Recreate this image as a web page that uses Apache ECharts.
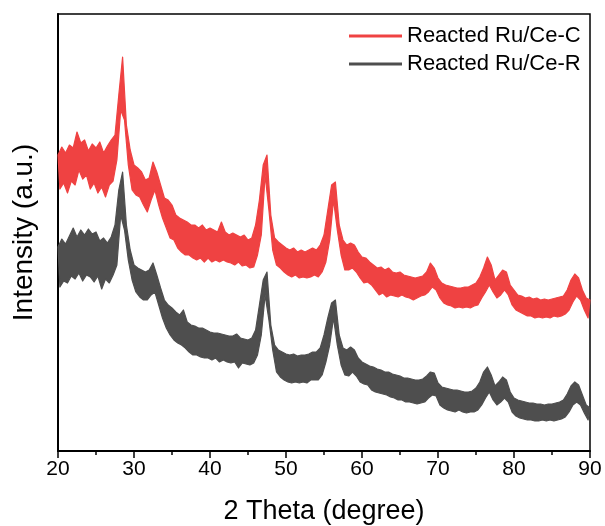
<!DOCTYPE html>
<html lang="en" style="height: 100%">
<head>
  <meta charset="utf-8">
</head>
<body style="height: 100%; margin: 0">
  <div id="container" style="width: 605px; height: 526px"></div>

  <script type="text/javascript" src="https://fastly.jsdelivr.net/npm/echarts@6.0.0/dist/echarts.min.js"></script>
  <script type="text/javascript">
    // scan: 2 theta from 20 to 90, upper edge of the noise band every 0.5 deg,
    // lower edge of the band read half a step later (20.25, 20.75 ...)
    var scanStart = 20;
    var scanStep = 0.5;

    var xTicks = [20, 30, 40, 50, 60, 70, 80, 90];
    var seriesNames = ['Reacted Ru/Ce-C', 'Reacted Ru/Ce-R'];

    // Reacted Ru/Ce-C
    var ceCTop = [
      296, 304, 298, 306, 303, 319, 308, 311, 300, 307, 303, 309, 298, 305, 311, 316, 356, 394, 326, 301,
      286, 283, 279, 271, 273, 289, 279, 266, 253, 251, 246, 236, 233, 231, 229, 226, 226, 223, 226, 221,
      223, 221, 219, 229, 219, 216, 218, 216, 214, 216, 211, 213, 226, 251, 286, 296, 236, 213, 209, 206,
      203, 201, 203, 199, 201, 199, 201, 203, 201, 206, 216, 241, 266, 269, 226, 211, 206, 208, 206, 199,
      194, 193, 189, 186, 183, 184, 181, 183, 179, 178, 179, 176, 175, 174, 173, 174, 175, 179, 188, 183,
      173, 168, 166, 165, 164, 163, 163, 164, 164, 166, 168, 174, 183, 194, 186, 171, 176, 181, 179, 166,
      161, 156, 155, 153, 154, 152, 153, 151, 152, 151, 152, 153, 154, 155, 161, 171, 177, 173, 161, 153,
      151
    ];
    var ceCLow = [
      262, 268, 258, 270, 266, 281, 272, 276, 262, 268, 258, 264, 254, 266, 270, 291, 341, 331, 286, 261,
      256, 254, 246, 239, 251, 261, 246, 233, 223, 213, 211, 203, 199, 196, 196, 193, 191, 193, 189, 193,
      189, 191, 189, 191, 189, 188, 186, 189, 185, 186, 183, 184, 196, 216, 276, 241, 201, 186, 183, 179,
      176, 174, 176, 173, 174, 173, 174, 176, 174, 179, 189, 211, 251, 221, 196, 181, 181, 183, 179, 173,
      168, 169, 166, 161, 156, 158, 154, 156, 155, 154, 156, 154, 153, 151, 153, 155, 156, 159, 164, 161,
      153, 148, 146, 145, 143, 144, 143, 144, 143, 145, 146, 153, 159, 166, 159, 153, 156, 161, 156, 146,
      141, 139, 137, 135, 135, 133, 134, 133, 134, 133, 135, 134, 135, 137, 141, 149, 155, 151, 141, 133
    ];

    // Reacted Ru/Ce-R
    var ceRTop = [
      204, 212, 207, 215, 223, 214, 221, 216, 222, 217, 219, 210, 213, 208, 214, 226, 261, 279, 226, 201,
      186, 183, 181, 179, 181, 188, 176, 163, 151, 146, 143, 139, 136, 141, 129, 126, 125, 123, 123, 121,
      119, 118, 118, 117, 116, 115, 115, 117, 113, 112, 111, 113, 121, 146, 171, 179, 126, 106, 101, 99,
      97, 96, 97, 95, 96, 96, 97, 99, 99, 103, 116, 133, 148, 151, 116, 103, 101, 104, 101, 93,
      89, 87, 85, 84, 82, 81, 79, 79, 77, 76, 75, 73, 73, 72, 71, 71, 72, 75, 79, 78,
      68, 64, 63, 62, 61, 61, 60, 59, 59, 60, 63, 69, 79, 84, 76, 65, 69, 74, 71, 59,
      53, 51, 50, 49, 48, 48, 47, 47, 46, 47, 47, 48, 49, 51, 57, 65, 69, 66, 56, 46,
      43
    ];
    var ceRLow = [
      164, 170, 168, 175, 172, 178, 170, 176, 174, 169, 175, 162, 172, 168, 176, 186, 236, 221, 191, 171,
      159, 154, 151, 151, 156, 159, 146, 133, 123, 116, 111, 108, 106, 103, 99, 96, 96, 94, 93, 93,
      91, 93, 89, 91, 89, 88, 89, 83, 88, 87, 86, 88, 96, 116, 156, 131, 101, 79, 74, 71,
      69, 68, 69, 68, 69, 68, 71, 71, 71, 76, 89, 106, 133, 106, 86, 76, 75, 79, 75, 69,
      67, 66, 61, 59, 58, 57, 56, 54, 53, 51, 51, 49, 49, 48, 47, 48, 49, 53, 56, 55,
      46, 43, 41, 40, 39, 41, 39, 38, 39, 39, 41, 46, 53, 59, 51, 46, 49, 53, 49, 39,
      35, 33, 32, 31, 31, 30, 30, 31, 30, 31, 30, 31, 32, 34, 39, 46, 49, 46, 38, 31
    ];

    function buildTrace(top, low) {
      var out = [];
      for (var i = 0; i < top.length; i++) {
        out.push([scanStart + scanStep * i, top[i]]);
        if (i < low.length) {
          out.push([scanStart + scanStep * i + scanStep / 2, low[i]]);
        }
      }
      return out;
    }

    // noisy trace drawn as a filled band: upper readings forward, lower readings back
    function bandSeries(name, trace) {
      return {
        name: name,
        type: 'custom',
        coordinateSystem: 'cartesian2d',
        encode: { x: 0, y: 1 },
        data: trace,
        renderItem: function (params, api) {
          if (params.dataIndex !== 0) return null;
          var upper = [];
          var lower = [];
          for (var i = 0; i < trace.length; i++) {
            var p = api.coord(trace[i]);
            if (i % 2 === 0) upper.push(p); else lower.push(p);
          }
          var pts = upper.concat(lower.reverse());
          return {
            type: 'polygon',
            shape: { points: pts },
            style: {
              fill: api.visual('color'),
              stroke: api.visual('color'),
              lineWidth: 1.2,
              lineJoin: 'round'
            }
          };
        }
      };
    }

    var dom = document.getElementById('container');
    var myChart = echarts.init(dom, null, { renderer: 'canvas' });

    var font = 'Arial, "Liberation Sans", sans-serif';

    var option = {
      animation: false,
      backgroundColor: '#fff',
      color: ['#EF4242', '#4E4E4E'],
      grid: {
        left: 58,
        right: 15,
        top: 14,
        bottom: 75,
        containLabel: false,
        outerBoundsMode: 'none',
        show: true,
        borderColor: '#000',
        borderWidth: 1.5
      },
      legend: {
        orient: 'vertical',
        left: 344,
        top: 20,
        itemWidth: 53,
        itemHeight: 3,
        itemGap: 6,
        icon: 'rect',
        data: seriesNames,
        textStyle: { fontFamily: font, fontSize: 22, color: '#000', lineHeight: 21 }
      },
      xAxis: {
        type: 'value',
        min: 20,
        max: 90,
        interval: 10,
        name: '2 Theta (degree)',
        nameLocation: 'middle',
        nameGap: 47,
        nameTextStyle: { fontFamily: font, fontSize: 27, color: '#000' },
        axisLine: { onZero: false, lineStyle: { color: '#000', width: 2 } },
        axisTick: { show: true, length: 7, inside: false, lineStyle: { color: '#000', width: 1.5 } },
        minorTick: { show: true, splitNumber: 2, length: 4, lineStyle: { color: '#000', width: 1.5 } },
        splitLine: { show: false },
        axisLabel: {
          fontFamily: font, fontSize: 21, color: '#000', margin: 8,
          formatter: function (v) { return xTicks.indexOf(v) >= 0 ? String(v) : ''; }
        }
      },
      yAxis: {
        type: 'value',
        min: 0,
        max: 437,
        name: 'Intensity (a.u.)',
        nameLocation: 'middle',
        nameGap: 20,
        nameTextStyle: { fontFamily: font, fontSize: 28, color: '#000' },
        axisLine: { show: true, lineStyle: { color: '#000', width: 2 } },
        axisTick: { show: false },
        axisLabel: { show: false },
        splitLine: { show: false }
      },
      series: [
        bandSeries(seriesNames[0], buildTrace(ceCTop, ceCLow)),
        bandSeries(seriesNames[1], buildTrace(ceRTop, ceRLow))
      ]
    };

    myChart.setOption(option);
    window.addEventListener('resize', myChart.resize);
  </script>
</body>
</html>
